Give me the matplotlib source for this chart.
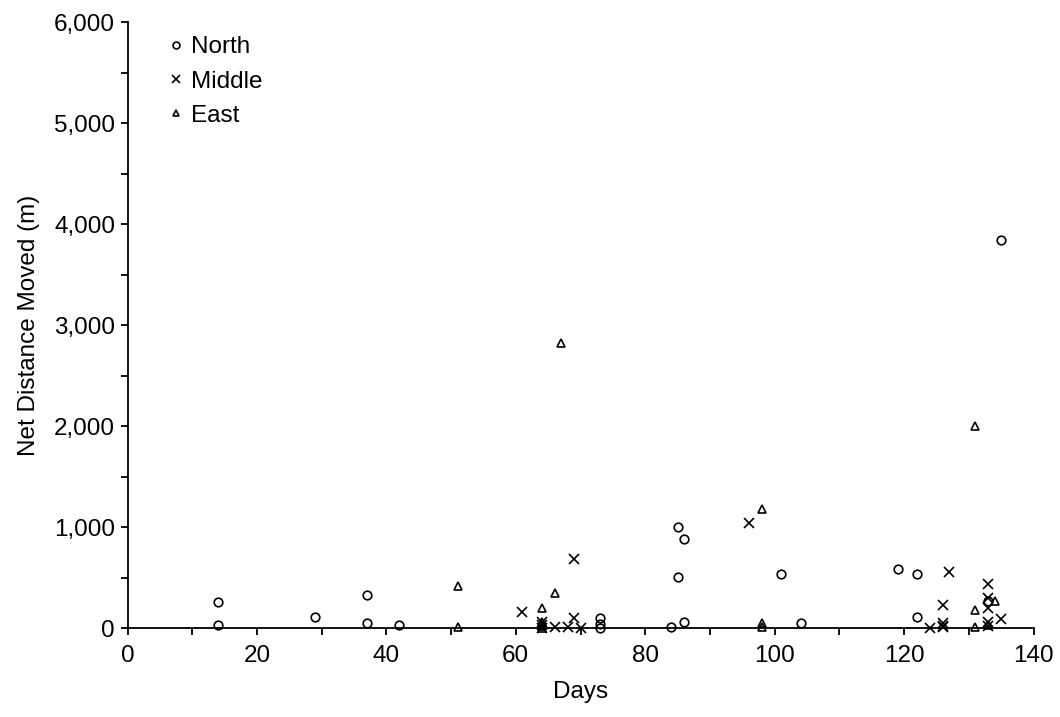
import matplotlib
matplotlib.use('Agg')
import matplotlib.pyplot as plt
from matplotlib.ticker import MultipleLocator, FuncFormatter

plt.rcParams['font.family'] = ['Liberation Sans', 'DejaVu Sans']

# days / net distance (m)
north_days = [14, 14, 29, 37, 37, 42, 73, 73, 73, 84, 85, 85, 86, 86,
              101, 104, 119, 122, 122, 133, 135]
north_dist = [265, 33, 115, 330, 55, 33, 100, 45, 5, 16, 505, 1005, 880, 65,
              538, 55, 590, 535, 110, 270, 3850]

middle_days = [61, 64, 64, 64, 66, 68, 69, 69, 70, 96, 124, 126, 126, 126,
               126, 127, 133, 133, 133, 133, 133, 135]
middle_dist = [165, 65, 30, 5, 15, 8, 683, 100, 0, 1040, 5, 230, 55, 25,
               10, 560, 435, 297, 198, 66, 25, 89]

east_days = [51, 51, 64, 64, 64, 64, 66, 67, 98, 98, 98, 131, 131, 131,
             133, 134]
east_dist = [422, 10, 204, 60, 20, 5, 353, 2830, 1180, 50, 10, 2000, 181, 10,
             33, 270]

fs = 17.5

fig = plt.figure(figsize=(10.6, 7.17), dpi=100)
ax = fig.add_axes([0.1203, 0.1237, 0.8547, 0.845])

ax.plot(north_days, north_dist, 'o', mfc='none', mec='black', mew=1.2,
        ms=6.2, label='North', clip_on=False)
ax.plot(middle_days, middle_dist, 'x', color='black', mew=1.2,
        ms=7, label='Middle', clip_on=False)
ax.plot(east_days, east_dist, '^', mfc='none', mec='black', mew=1.2,
        ms=6.2, label='East', clip_on=False)

ax.set_xlim(0, 140)
ax.set_ylim(0, 6000)
ax.xaxis.set_major_locator(MultipleLocator(20))
ax.xaxis.set_minor_locator(MultipleLocator(10))
ax.yaxis.set_major_locator(MultipleLocator(1000))
ax.yaxis.set_minor_locator(MultipleLocator(500))
ax.yaxis.set_major_formatter(FuncFormatter(lambda v, p: '{:,.0f}'.format(v)))

ax.spines['top'].set_visible(False)
ax.spines['right'].set_visible(False)
for s in ['left', 'bottom']:
    ax.spines[s].set_linewidth(1.3)

ax.tick_params(which='both', direction='out', length=5, width=1.3,
               labelsize=fs, colors='black')
ax.tick_params(axis='x', pad=7)
ax.tick_params(axis='y', pad=4)

ax.set_xlabel('Days', fontsize=fs, labelpad=10)
ax.set_ylabel('Net Distance Moved (m)', fontsize=fs, labelpad=10)

ax.legend(loc='upper left', bbox_to_anchor=(0.0215, 1.013), frameon=False,
          fontsize=fs, handlelength=0.6, handletextpad=0.3,
          labelspacing=0.5, markerscale=0.8)

fig.savefig('out.png', dpi=100)
